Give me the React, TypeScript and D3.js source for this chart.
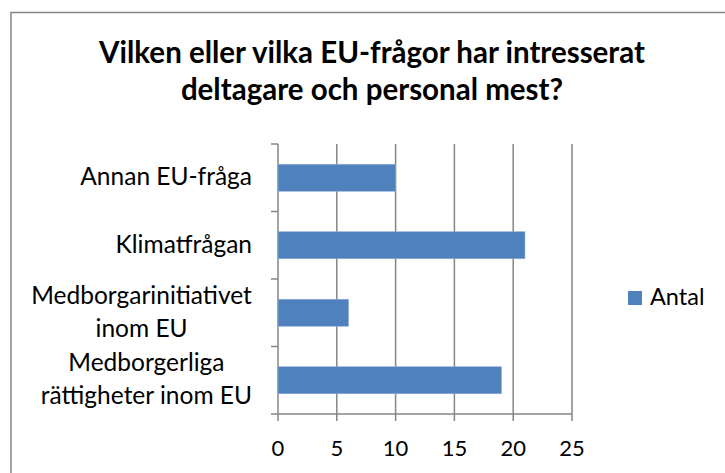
import React, { useLayoutEffect, useRef, useState } from "react";
import * as d3 from "d3";

const titleLines = ["Vilken eller vilka EU-frågor har intresserat", "deltagare och personal mest?"];
const categories = ["Annan EU-fråga", "Klimatfrågan", "Medborgarinitiativet inom EU", "Medborgerliga rättigheter inom EU"];
const categoryLines = [["Annan EU-fråga"], ["Klimatfrågan"], ["Medborgarinitiativet", "inom EU"], ["Medborgerliga", "rättigheter inom EU"]];
const values = [10, 21, 6, 19];
const seriesName = "Antal";
const xTicks = [0, 5, 10, 15, 20, 25];

const W = 725;
const H = 473;
const FONT = "Lato, 'Open Sans', sans-serif";
const BLUE = "#4F81BD";
const GRID = "#868686";

export default function App() {
  const plot = { left: 278, right: 572, top: 144, bottom: 414 };
  const x = d3.scaleLinear().domain([0, 25]).range([plot.left, plot.right]);
  const y = d3.scaleBand<string>().domain(categories).range([plot.top, plot.bottom]).paddingInner(0.6).paddingOuter(0.3);
  const band = d3.scaleBand<string>().domain(categories).range([plot.top, plot.bottom]);
  const lineGap = 33;
  const labelRight = 252;

  const labelRefs = useRef<(SVGTextElement | null)[]>([]);
  const [widths, setWidths] = useState<number[]>(categories.map(() => 0));
  useLayoutEffect(() => {
    const w = labelRefs.current.map((el) => (el ? el.getBBox().width : 0));
    setWidths(w);
  }, []);

  return (
    <svg width={W} height={H} style={{ position: "absolute", left: 0, top: 0, background: "#fff" }}>
      <rect x={11} y={12.5} width={W} height={H} fill="#fff" stroke={GRID} strokeWidth={1.5} />
      {titleLines.map((t, i) => (
        <text key={i} x={372} y={63 + i * 37} textAnchor="middle" fontFamily={FONT} fontWeight="bold" fontSize={29.5} fill="#000">
          {t}
        </text>
      ))}
      {xTicks.map((t) => (
        <g key={t}>
          <line x1={x(t)} x2={x(t)} y1={plot.top} y2={plot.bottom + 7} stroke={GRID} strokeWidth={1.5} />
          <text x={x(t)} y={456} textAnchor="middle" fontFamily={FONT} fontSize={22} fill="#000">
            {t}
          </text>
        </g>
      ))}
      <line x1={plot.left - 7} x2={plot.right} y1={plot.bottom} y2={plot.bottom} stroke={GRID} strokeWidth={1.5} />
      {categories.map((c) => (
        <line key={c} x1={plot.left - 7} x2={plot.left} y1={band(c)!} y2={band(c)!} stroke={GRID} strokeWidth={1.5} />
      ))}
      {categories.map((c, i) => (
        <rect key={c} x={x(0)} y={y(c)!} width={x(values[i]) - x(0)} height={y.bandwidth()} fill={BLUE} stroke="#8EADD6" strokeWidth={0.6} />
      ))}
      {categories.map((c, i) => {
        const lines = categoryLines[i];
        const cy = band(c)! + band.bandwidth() / 2;
        const cx = labelRight - widths[i] / 2;
        return (
          <text
            key={c}
            ref={(el) => {
              labelRefs.current[i] = el;
            }}
            fontFamily={FONT}
            fontSize={24.5}
            fill="#000"
            textAnchor="middle"
          >
            {lines.map((l, j) => (
              <tspan key={j} x={cx} y={cy + 7.5 + (j - (lines.length - 1) / 2) * lineGap}>
                {l}
              </tspan>
            ))}
          </text>
        );
      })}
      <rect x={628} y={291} width={14} height={14} fill={BLUE} />
      <text x={650} y={305} fontFamily={FONT} fontSize={23.5} fill="#000">
        {seriesName}
      </text>
    </svg>
  );
}
